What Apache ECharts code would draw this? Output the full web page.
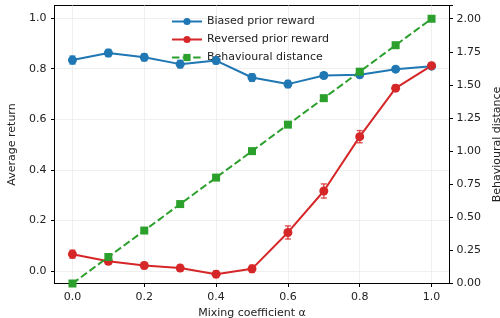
<!DOCTYPE html>
<html><head><meta charset="utf-8">
<script src="https://cdn.jsdelivr.net/npm/echarts@6/dist/echarts.min.js"></script>
<style>html,body{margin:0;padding:0;background:#fff}#c{width:500px;height:318px}</style>
</head><body><div id="c"></div>
<script>
var alphas = [0.0, 0.1, 0.2, 0.3, 0.4, 0.5, 0.6, 0.7, 0.8, 0.9, 1.0];
var biased = [0.834, 0.862, 0.845, 0.818, 0.832, 0.765, 0.739, 0.773, 0.776, 0.798, 0.810];
var biasedErr = [0.016, 0.014, 0.014, 0.015, 0.013, 0.015, 0.014, 0.010, 0.010, 0.008, 0.008];
var reversed = [0.066, 0.038, 0.021, 0.011, -0.013, 0.008, 0.152, 0.316, 0.531, 0.723, 0.812];
var reversedErr = [0.016, 0.012, 0.012, 0.012, 0.013, 0.014, 0.026, 0.028, 0.024, 0.012, 0.008];
var distance = [0.0, 0.2, 0.4, 0.6, 0.8, 1.0, 1.2, 1.4, 1.6, 1.8, 2.0];
var xTicks = [0.0, 0.2, 0.4, 0.6, 0.8, 1.0];
var yTicks = [0.0, 0.2, 0.4, 0.6, 0.8, 1.0];

var BLUE = '#1f77b4', RED = '#d62728', GREEN = '#2ca02c';
var FONT = 'DejaVu Sans';
var TXT = '#222';

function pairs(vals){ return alphas.map(function(a,i){ return [a, vals[i]]; }); }
function errData(vals, errs){ return alphas.map(function(a,i){ return [a, vals[i]-errs[i], vals[i]+errs[i]]; }); }
function errSeries(vals, errs, color){
  return {
    type: 'custom', yAxisIndex: 0, silent: true, z: 3,
    data: errData(vals, errs),
    encode: {x: 0, y: [1, 2]},
    renderItem: function(params, api){
      var lo = api.coord([api.value(0), api.value(1)]);
      var hi = api.coord([api.value(0), api.value(2)]);
      var w = 3;
      var st = {stroke: color, lineWidth: 1.5, opacity: 0.75};
      return {type: 'group', children: [
        {type: 'line', shape: {x1: lo[0], y1: lo[1], x2: hi[0], y2: hi[1]}, style: st},
        {type: 'line', shape: {x1: lo[0]-w, y1: lo[1], x2: lo[0]+w, y2: lo[1]}, style: st},
        {type: 'line', shape: {x1: hi[0]-w, y1: hi[1], x2: hi[0]+w, y2: hi[1]}, style: st}
      ]};
    }
  };
}

var chart = echarts.init(document.getElementById('c'), null, {renderer: 'canvas'});
chart.setOption({
  animation: false,
  textStyle: {fontFamily: FONT},
  grid: {left: 54.5, right: 50.5, top: 5.5, bottom: 34.5, show: true, borderColor: '#000', borderWidth: 1,
    containLabel: false, outerBoundsMode: 'none'},
  legend: {
    orient: 'vertical', left: 166, top: 11, itemGap: 7, itemWidth: 30, itemHeight: 9,
    textStyle: {fontFamily: FONT, fontSize: 11, color: TXT},
    data: ['Biased prior reward', 'Reversed prior reward', 'Behavioural distance']
  },
  xAxis: {
    type: 'value', min: -0.05, max: 1.05,
    name: 'Mixing coefficient α', nameLocation: 'middle', nameGap: 23,
    nameTextStyle: {fontFamily: FONT, fontSize: 11, color: TXT},
    axisLine: {show: true, onZero: false, lineStyle: {color: '#000', width: 1}},
    axisTick: {show: true, inside: false, length: 3.5, customValues: xTicks, lineStyle: {color: '#000'}},
    axisLabel: {customValues: xTicks, fontFamily: FONT, fontSize: 11, color: TXT, margin: 8,
      formatter: function(v){ return v.toFixed(1); }},
    splitLine: {show: true, customValues: xTicks, lineStyle: {color: '#ebebeb', width: 0.8}}
  },
  yAxis: [{
    type: 'value', min: -0.05, max: 1.05, position: 'left',
    name: 'Average return', nameLocation: 'middle', nameGap: 30, nameRotate: 90,
    nameTextStyle: {fontFamily: FONT, fontSize: 11, color: TXT},
    axisLine: {show: true, onZero: false, lineStyle: {color: '#000', width: 1}},
    axisTick: {show: true, inside: false, length: 3.5, customValues: yTicks, lineStyle: {color: '#000'}},
    axisLabel: {customValues: yTicks, fontFamily: FONT, fontSize: 11, color: TXT, margin: 8,
      formatter: function(v){ return v.toFixed(1); }},
    splitLine: {show: true, customValues: yTicks, lineStyle: {color: '#ebebeb', width: 0.8}}
  }, {
    type: 'value', min: 0, max: 2.1, interval: 0.25, position: 'right',
    name: 'Behavioural distance', nameLocation: 'middle', nameGap: 35, nameRotate: 90,
    nameTextStyle: {fontFamily: FONT, fontSize: 11, color: TXT},
    axisLine: {show: true, onZero: false, lineStyle: {color: '#000', width: 1}},
    axisTick: {show: true, inside: false, length: 3.5, lineStyle: {color: '#000'}},
    axisLabel: {fontFamily: FONT, fontSize: 11, color: TXT, margin: 7,
      formatter: function(v){ return v > 2.05 ? '' : v.toFixed(2); }},
    splitLine: {show: false}
  }],
  series: [
    errSeries(biased, biasedErr, BLUE),
    errSeries(reversed, reversedErr, RED),
    {
      name: 'Biased prior reward', type: 'line', yAxisIndex: 0, data: pairs(biased),
      symbol: 'circle', symbolSize: 9, z: 4,
      lineStyle: {color: BLUE, width: 2}, itemStyle: {color: BLUE}
    },
    {
      name: 'Reversed prior reward', type: 'line', yAxisIndex: 0, data: pairs(reversed),
      symbol: 'circle', symbolSize: 9, z: 4,
      lineStyle: {color: RED, width: 2}, itemStyle: {color: RED}
    },
    {
      name: 'Behavioural distance', type: 'line', yAxisIndex: 1, data: pairs(distance),
      symbol: 'rect', symbolSize: 8, z: 4,
      lineStyle: {color: GREEN, width: 2, type: [7.4, 3.2]}, itemStyle: {color: GREEN}
    }
  ]
});
</script></body></html>
